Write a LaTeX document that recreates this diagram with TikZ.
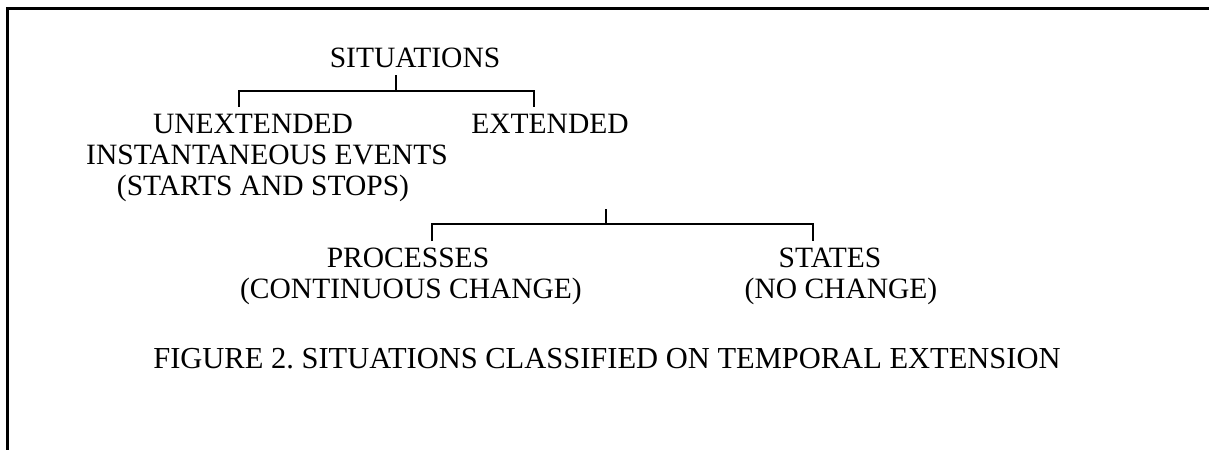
\documentclass[tikz,border=0pt]{standalone}
\usepackage{fontspec}
\setmainfont{Liberation Serif}
\frenchspacing
\begin{document}
\begin{tikzpicture}[x=1pt,y=-1pt,
  lbl/.style={anchor=base,inner sep=0pt,font=\fontsize{29.5}{31}\selectfont},
  brk/.style={line width=1.6pt,line cap=butt,line join=miter},
  frame/.style={line width=3pt,line join=miter}]
\useasboundingbox (0,0) rectangle (1209,450);
% frame
\coordinate (fTR) at (1209,8.5);
\coordinate (fTL) at (7.5,8.5);
\coordinate (fBL) at (7.5,450);
\draw[frame] (fTR) -- (fTL) -- (fBL);
% texts
\node[lbl] (sit) at (415,67) {SITUATIONS};
\node[lbl] (un1) at (253,133) {UNEXTENDED};
\node[lbl] (un2) at (267,164) {INSTANTANEOUS EVENTS};
\node[lbl] (un3) at (263,195) {(STARTS AND STOPS)};
\node[lbl] (ext) at (550,133) {EXTENDED};
\node[lbl] (pr1) at (408,267) {PROCESSES};
\node[lbl] (pr2) at (411,298) {(CONTINUOUS CHANGE)};
\node[lbl] (st1) at (830,267) {STATES};
\node[lbl] (st2) at (841,298) {(NO CHANGE)};
\node[lbl,font=\fontsize{30.5}{31}\selectfont] (cap) at (607,368) {FIGURE 2. SITUATIONS CLASSIFIED ON TEMPORAL EXTENSION};
% bracket 1
\coordinate (b1s) at (396,75);
\coordinate (b1m) at (396,91);
\coordinate (b1l) at (239,107);
\coordinate (b1r) at (534,107);
\draw[brk] (b1s) -- (b1m);
\draw[brk] (b1l) |- (b1m) -| (b1r);
% bracket 2
\coordinate (b2s) at (606,209);
\coordinate (b2m) at (606,224);
\coordinate (b2l) at (432,241);
\coordinate (b2r) at (813,241);
\draw[brk] (b2s) -- (b2m);
\draw[brk] (b2l) |- (b2m) -| (b2r);
\end{tikzpicture}
\end{document}
